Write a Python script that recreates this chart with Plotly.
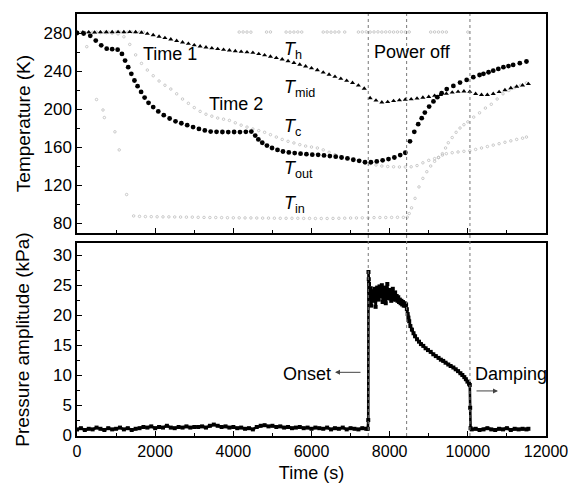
import plotly.graph_objects as go

# ---------------- data ----------------
# T_mid (black triangles), sampled every 150 s from 0 s
t_mid_step = 150
T_mid = [280.5, 280.7, 280.8, 280.6, 280.9, 281.0, 281.0, 281.1, 281.0, 281.1,
         281.0, 280.5, 279.3, 277.8, 276.3, 274.8, 273.3, 271.8, 270.2, 268.7,
         267.2, 266.0, 265.0, 264.0, 263.2, 262.5, 261.8, 261.0, 260.4, 259.8,
         259.3, 258.0, 256.6, 255.2, 253.8, 252.3, 250.5, 248.6, 246.8, 245.0,
         243.0, 241.0, 238.5, 236.2, 234.0, 231.9, 229.8, 227.6, 224.8, 221.5,
         211.5, 209.0, 207.0, 207.5, 208.5, 209.3, 210.0, 210.4, 211.2, 212.0,
         212.8, 214.0, 215.0, 216.2, 217.4, 218.3, 218.6, 218.2, 216.0, 215.0,
         215.0, 216.0, 218.0, 220.0, 222.0, 223.6, 225.0, 226.4]
t_mid = [i * t_mid_step for i in range(len(T_mid))]

# T_out (black dots)
t_out = [0, 170, 340, 480, 620, 760, 900, 1040, 1150, 1230, 1310, 1390, 1470, 1550,
         1640, 1730, 1830, 1950, 2080, 2220, 2370, 2520, 2670, 2820, 2970, 3120,
         3270, 3420, 3570, 3720, 3870, 4020, 4170, 4320, 4460, 4560, 4640, 4740,
         4860, 4990, 5130, 5270, 5420, 5570, 5720, 5870, 6020, 6170, 6320, 6470,
         6620, 6770, 6920, 7070, 7220, 7370, 7520, 7670, 7820, 7970, 8120, 8270,
         8400, 8520, 8630, 8730, 8820, 8900, 9010, 9120, 9220, 9330, 9460, 9630,
         9800, 9970, 10140, 10300, 10400, 10530, 10650, 10780, 10910, 11040, 11160,
         11330, 11500]
T_out = [280, 279.5, 277, 272, 267, 263.5, 263, 262.5, 258, 251, 244, 237, 230, 224,
         218, 212, 206.5, 202, 197.5, 193.5, 190, 187, 185, 183, 181, 179,
         177.5, 176.3, 176, 175.8, 175.7, 175.8, 175.7, 176, 176.3, 172, 168, 164.5,
         161.5, 159, 157, 155.3, 154.3, 153.6, 153, 152.5, 152, 151.8, 151.2, 150.5,
         149.8, 149, 148, 146.6, 145.5, 144, 144, 144.8, 146, 147.3, 149, 151.5,
         154, 166, 176, 184, 190.4, 196.3, 202.6, 208, 212.5, 216.7, 221, 224.3,
         227.8, 230.6, 233.5, 235.8, 237, 238.7, 240.4, 242.2, 244, 245.2, 246.4,
         248.2, 250]

# T_c (grey)
t_c = [0, 150, 300, 450, 600, 750, 900, 1050, 1200, 1350, 1500, 1650, 1800, 1950,
       2100, 2250, 2400, 2550, 2700, 2850, 3000, 3150, 3300, 3450, 3600, 3750, 3900,
       4050, 4200, 4350, 4500, 4650, 4800, 4950, 5100, 5250, 5400, 5550, 5700, 5850,
       6000, 6150, 6300, 6450, 6600, 6750, 6900, 7050, 7200, 7350, 7500, 7650, 7800,
       7950, 8100, 8250, 8400, 8550, 8700, 8850, 9000, 9150, 9250, 9350, 9430, 9500,
       9600, 9700, 9800, 9900, 10000, 10150, 10300, 10450, 10600, 10750, 10900,
       11050, 11200, 11350, 11500]
T_c = [280, 280.5, 280.2, 280.6, 280.4, 280.3, 279.8, 279, 276, 268, 257, 248, 241, 235,
       229.5, 225, 221, 216, 210.5, 206, 201.5, 197.5, 194.5, 192.5, 190.5, 189.3, 188,
       185.5, 183, 181, 179, 177.3, 175.5, 173, 170.5, 168, 166, 164.3, 162.5, 161,
       160, 159, 157, 154.5, 152, 150, 148, 146.5, 145.2, 144, 142.5, 141, 140,
       139.5, 139.2, 139, 139, 139.2, 140.5, 143.4, 146, 147.8, 149, 153, 159, 164.5,
       170, 175.5, 180, 183.5, 186.5, 191.5, 196, 201, 205, 210.5, 216,
       219.5, 222.5, 225, 227.5]

# T_in (grey; early drop is only sparsely visible)
t_in = [0, 250, 500, 665, 700, 970, 1080, 1270,
        1450, 1600, 1750, 1900, 2050, 2200, 2350, 2500, 2650, 2800, 2950, 3100, 3250, 3400,
        3550, 3700, 3850, 4000, 4150, 4300, 4450, 4600, 4750, 4900, 5050, 5200, 5350,
        5500, 5650, 5800, 5950, 6100, 6250, 6400, 6550, 6700, 6850, 7000, 7150, 7300,
        7450, 7600, 7750, 7900, 8050, 8200, 8350, 8450,
        8500, 8560, 8650, 8750, 8850, 8950, 9050, 9150, 9250, 9350, 9450, 9600, 9750,
        9900, 10050, 10200, 10350, 10500, 10650, 10800, 10950, 11100, 11250, 11400, 11500]
T_in = [280, 265.6, 210, 199, 191, 176, 157, 110,
        87.5, 87, 86.8, 86.7, 86.6, 86.5, 86.5, 86.4, 86.3, 86.2, 86.2, 86.0, 85.9, 85.8,
        85.8, 85.7, 85.6, 85.5, 85.5, 85.4, 85.4, 85.3, 85.2, 85.2, 85.1, 85.0, 85.0,
        85.0, 85.0, 84.9, 84.9, 84.8, 84.8, 84.8, 84.9, 85.0, 85.1, 85.3, 85.4, 85.5,
        85.6, 85.7, 85.8, 85.8, 85.9, 86.0, 86.0, 86.2,
        90, 96, 106, 118, 127, 134, 140, 145, 149, 151.5, 153, 154, 154.8,
        155.5, 156, 157.5, 159, 160.5, 162, 163.5, 165, 166.5, 168, 169.3, 170.5]

# T_h (grey, near ambient; visible segments only)
t_h = [0, 100, 200, 300, 400, 500, 600, 700, 800, 900, 1000, 1100, 1200, 1300, 1400,
       1500, 1600, 1700, 4150, 4250, 4350, 4450, 4850, 4950, 5350, 5450, 5550, 5650,
       5750, 6300, 6400, 6500, 6600, 6700, 6850, 7200, 7300, 7400, 7500, 7600, 7700,
       7800, 7900, 8000, 8100, 8200, 8300, 8400, 8500, 9050, 9150, 9250, 9350, 9450,
       10000]
T_h = [280.2, 280.5, 280.6, 280.8, 280.7, 280.9, 281.0, 280.8, 281.0, 281.1, 280.9,
       281.0, 281.1, 280.9, 281.0, 280.8, 280.9, 281.0, 281.0, 281.1, 281.0, 280.9,
       281.0, 281.1, 281.0, 280.9, 281.0, 281.1, 281.0, 281.0, 281.1, 280.9, 281.0,
       281.1, 281.0, 281.0, 281.1, 281.2, 281.0, 281.1, 281.2, 281.0, 281.1, 281.2,
       281.0, 281.1, 281.2, 281.0, 281.1, 281.0, 281.1, 281.0, 281.1, 281.0, 281.0]

# Pressure amplitude (kPa)
p_base_step = 100
P_base = [1.0, 1.2, 0.9, 1.1, 1.0, 1.3, 1.1, 0.9, 1.2, 1.0, 1.1, 1.3, 1.0, 1.2, 0.9, 1.1,
          1.2, 1.4, 1.3, 1.5, 1.2, 1.4, 1.3, 1.6, 1.3, 1.2, 1.4, 1.3, 1.5, 1.3, 1.4,
          1.4, 1.5, 1.3, 1.6, 1.8, 1.6, 1.4, 1.5, 1.3, 1.4, 1.2, 1.3, 1.1, 1.2, 1.0,
          1.4, 1.6, 1.7, 1.5, 1.6, 1.4, 1.5, 1.3, 1.4, 1.2, 1.3, 1.4, 1.2, 1.3, 1.1,
          1.3, 1.2, 1.1, 1.3, 1.0, 1.2, 1.1, 1.3, 1.0, 1.2, 1.1, 1.0, 1.2, 1.1]
t_base = [i * p_base_step for i in range(len(P_base))]

t_on = [7440, 7452, 7458, 7465, 7472, 7480, 7490, 7500, 7515, 7530, 7545, 7560, 7580,
        7600, 7620, 7640, 7660, 7680, 7700, 7720, 7740, 7760, 7780, 7800, 7820, 7840,
        7860, 7880, 7900, 7920, 7940, 7960, 7980, 8000, 8020, 8040, 8060, 8080, 8100,
        8120, 8140, 8160, 8180, 8200, 8220, 8240, 8260, 8280, 8300, 8320, 8340, 8360,
        8380, 8400, 8420, 8440,
        8460, 8480, 8500, 8530, 8570, 8610, 8650, 8700, 8750, 8800, 8860, 8920, 8980,
        9050, 9117, 9180, 9250, 9310, 9370, 9430, 9500, 9560, 9630, 9690, 9750, 9810,
        9860, 9910, 9950, 9990, 10030, 10050, 10060, 10070]
P_on = [1.1, 2.55, 27.2, 26.0, 25.2, 24.0, 22.8, 23.6, 24.5, 21.6, 23.2, 24.0, 22.4,
        23.8, 24.4, 21.4, 23.0, 24.6, 23.4, 22.6, 24.8, 23.2, 24.2, 25.0, 22.2, 23.8,
        24.6, 23.0, 22.0, 24.0, 25.2, 23.4, 22.8, 24.2, 23.6, 22.4, 23.8, 24.4, 22.6,
        23.4, 23.8, 22.6, 23.2, 22.4, 23.0, 22.2, 22.6, 22.0, 22.4, 21.8, 22.2, 21.6,
        22.0, 21.6, 21.8, 21.0,
        20.2, 19.6, 19.0, 18.2, 17.6, 17.0, 16.5, 16.0, 15.6, 15.2, 14.9, 14.5, 14.2,
        13.9, 13.5, 13.2, 12.9, 12.6, 12.4, 12.1, 11.8, 11.55, 11.3, 11.0, 10.7, 10.35,
        10.05, 9.7, 9.35, 8.95, 8.6, 8.4, 4.6, 1.2]

t_after = [10100, 10200, 10300, 10400, 10500, 10600, 10700, 10800, 10900, 11000,
           11100, 11200, 11300, 11400, 11500, 11550]
P_after = [1.0, 1.1, 0.9, 1.0, 1.2, 1.0, 0.9, 1.1, 1.0, 1.2, 0.9, 1.1, 1.0, 1.1, 1.0, 1.1]

event_times = [7452, 8434, 10054]

# ---------------- figure ----------------
FONT = "Liberation Sans, Arial, sans-serif"
fig = go.Figure()

grey = dict(symbol="circle-open", size=2.5, color="#bcbcbc", line=dict(width=0.8, color="#bcbcbc"))

fig.add_trace(go.Scatter(x=t_h, y=T_h, mode="markers", marker=grey, xaxis="x", yaxis="y"))
fig.add_trace(go.Scatter(x=t_c, y=T_c, mode="markers", marker=grey, xaxis="x", yaxis="y"))
fig.add_trace(go.Scatter(x=t_in, y=T_in, mode="markers", marker=grey, xaxis="x", yaxis="y"))
fig.add_trace(go.Scatter(x=t_mid, y=T_mid, mode="markers",
                         marker=dict(symbol="triangle-up", size=4.5, color="black"),
                         xaxis="x", yaxis="y"))
fig.add_trace(go.Scatter(x=t_out, y=T_out, mode="markers",
                         marker=dict(symbol="circle", size=4.8, color="black"),
                         xaxis="x", yaxis="y"))

pmark = dict(symbol="square", size=4, color="black")
fig.add_trace(go.Scatter(x=t_base + t_on, y=P_base + P_on, mode="lines+markers",
                         line=dict(color="black", width=2.6), marker=pmark,
                         xaxis="x2", yaxis="y2"))
fig.add_trace(go.Scatter(x=t_after, y=P_after, mode="lines+markers",
                         line=dict(color="black", width=3), marker=pmark,
                         xaxis="x2", yaxis="y2"))

shapes = []
for t in event_times:
    shapes.append(dict(type="line", xref="x2", yref="paper", x0=t, x1=t, y0=0, y1=1,
                       line=dict(color="#777", width=1, dash="dot")))

ann_font = dict(family=FONT, size=18, color="black")
sub_font = dict(family=FONT, size=18, color="black")
annotations = [
    dict(text="Time 1", x=1637, y=257.4, xref="x", yref="y", xanchor="left", yanchor="middle",
         showarrow=False, font=ann_font),
    dict(text="Time 2", x=3326, y=204.9, xref="x", yref="y", xanchor="left", yanchor="middle",
         showarrow=False, font=ann_font),
    dict(text="Power off", x=7548, y=259.5, xref="x", yref="y", xanchor="left", yanchor="middle",
         showarrow=False, font=ann_font),
    dict(text="<i>T</i><sub>h</sub>", x=5245, y=262, xref="x", yref="y", xanchor="left",
         yanchor="middle", showarrow=False, font=sub_font),
    dict(text="<i>T</i><sub>mid</sub>", x=5245, y=222, xref="x", yref="y", xanchor="left",
         yanchor="middle", showarrow=False, font=sub_font),
    dict(text="<i>T</i><sub>c</sub>", x=5245, y=181, xref="x", yref="y", xanchor="left",
         yanchor="middle", showarrow=False, font=sub_font),
    dict(text="<i>T</i><sub>out</sub>", x=5245, y=136, xref="x", yref="y", xanchor="left",
         yanchor="middle", showarrow=False, font=sub_font),
    dict(text="<i>T</i><sub>in</sub>", x=5245, y=99, xref="x", yref="y", xanchor="left",
         yanchor="middle", showarrow=False, font=sub_font),
    dict(text="Onset", x=5219, y=10.3, xref="x2", yref="y2", xanchor="left", yanchor="middle",
         showarrow=False, font=ann_font),
    dict(text="", x=6601, y=10.5, xref="x2", yref="y2", showarrow=True, ax=27, ay=0,
         arrowhead=2, arrowsize=1, arrowwidth=1, arrowcolor="#444"),
    dict(text="Damping", x=10132, y=10.25, xref="x2", yref="y2", xanchor="left", yanchor="middle",
         showarrow=False, font=ann_font),
    dict(text="", x=10772, y=7.4, xref="x2", yref="y2", showarrow=True, ax=-23, ay=0,
         arrowhead=2, arrowsize=1, arrowwidth=1, arrowcolor="#444"),
]

axis_common = dict(showline=True, linecolor="black", linewidth=1.5, mirror=True,
                   ticks="inside", tickcolor="black", ticklen=5, tickwidth=1.2,
                   showgrid=False, zeroline=False, automargin=False)

# The page body adds an 8 px offset, so the figure is 8 px smaller and margins shifted.
fig.update_layout(
    width=568, height=475,
    margin=dict(l=69, r=30, t=6, b=47),
    paper_bgcolor="white", plot_bgcolor="white",
    showlegend=False,
    font=dict(family=FONT, color="black"),
    xaxis=dict(domain=[0, 1], anchor="y", range=[0, 12000], dtick=2000,
               showticklabels=False, matches="x2",
               minor=dict(dtick=1000, ticks="inside", ticklen=3, tickcolor="black"),
               **axis_common),
    yaxis=dict(domain=[0.481, 1], anchor="x", range=[69.5, 300], tickvals=[80, 120, 160, 200, 240, 280],
               minor=dict(dtick=20, ticks="inside", ticklen=3, tickcolor="black"),
               tickfont=dict(size=17),
               title=dict(text="Temperature (K)", font=dict(size=19), standoff=8),
               **axis_common),
    xaxis2=dict(domain=[0, 1], anchor="y2", range=[0, 12000], dtick=2000, tickformat="d",
                minor=dict(dtick=1000, ticks="inside", ticklen=3, tickcolor="black"),
                tickfont=dict(size=16),
                title=dict(text="Time (s)", font=dict(size=18), standoff=8),
                **axis_common),
    yaxis2=dict(domain=[0, 0.457], anchor="x2", range=[-0.1, 32], dtick=5,
                minor=dict(dtick=2.5, ticks="inside", ticklen=3, tickcolor="black"),
                tickfont=dict(size=17),
                title=dict(text="Pressure amplitude (kPa)", font=dict(size=19), standoff=18),
                **axis_common),
    shapes=shapes,
    annotations=annotations,
)

fig.write_html("out.html")
